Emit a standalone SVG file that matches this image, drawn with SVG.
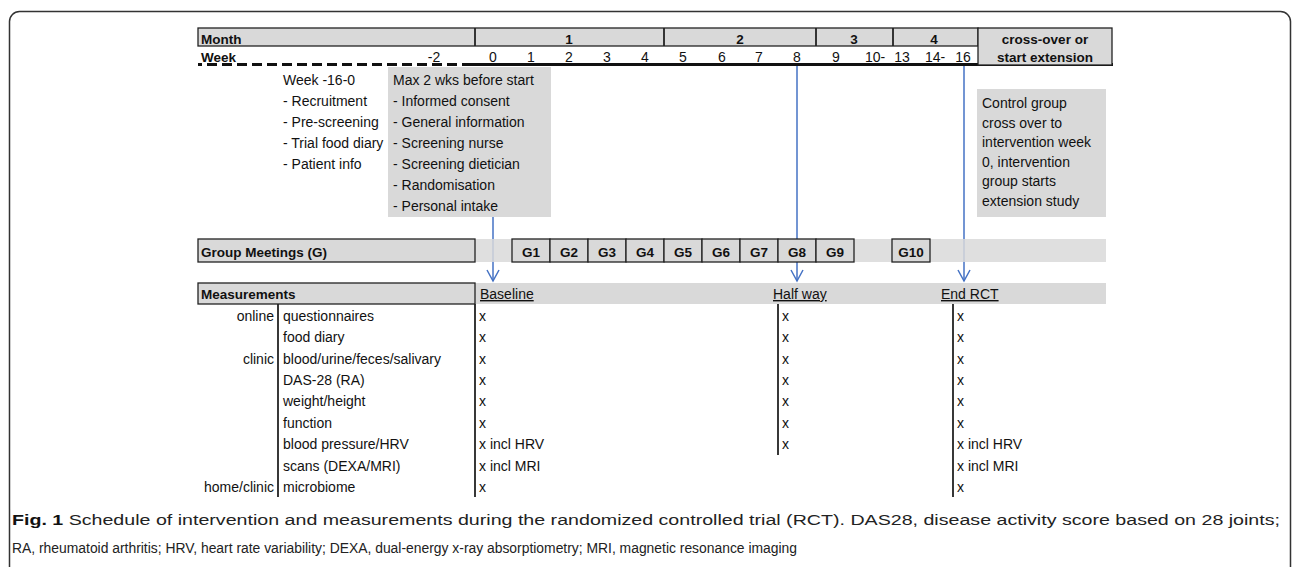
<svg xmlns="http://www.w3.org/2000/svg" width="1292" height="567" viewBox="0 0 1292 567">
<style>
  text { font-family: "Liberation Sans", Arial, sans-serif; font-size: 14px; fill: #111; }
  .b { font-weight: bold; font-size: 13.5px; }
  .c { text-anchor: middle; }
  .e { text-anchor: end; }
  .u { text-decoration: underline; }
  .gray { fill: #d9d9d9; }
  .cell { fill: #d9d9d9; stroke: #222; stroke-width: 1.3; }
  .vl { stroke: #222; stroke-width: 1.8; }
  .blue { stroke: #4472c4; stroke-width: 1.5; fill: none; }
  .cap { font-size: 15.5px; fill: #222; }
</style>
<defs>
  <marker id="arr" markerUnits="userSpaceOnUse" viewBox="-13 -8 15 16" refX="0" refY="0" markerWidth="15" markerHeight="16" orient="auto" overflow="visible">
    <path d="M-11,-6 L0,0 L-11,6" fill="none" stroke="#4472c4" stroke-width="1.5"/>
  </marker>
</defs>

<rect x="9.5" y="11.5" width="1281" height="600" rx="10" fill="#fff" stroke="#333" stroke-width="1.5"/>

<g id="header">
  <rect class="cell" x="198" y="28" width="780" height="18"/>
  <line class="vl" x1="475" y1="28" x2="475" y2="46" stroke-width="1.3"/>
  <line class="vl" x1="664" y1="28" x2="664" y2="46" stroke-width="1.3"/>
  <line class="vl" x1="816" y1="28" x2="816" y2="46" stroke-width="1.3"/>
  <line class="vl" x1="893" y1="28" x2="893" y2="46" stroke-width="1.3"/>
  <text class="b" x="201" y="44">Month</text>
  <text class="b c" x="569" y="44">1</text>
  <text class="b c" x="740" y="44">2</text>
  <text class="b c" x="854" y="44">3</text>
  <text class="b c" x="934" y="44">4</text>
  <text class="b" x="201" y="62">Week</text>
  <text class="c" x="434" y="62">-2</text>
  <text class="c" x="493" y="62">0</text>
  <text class="c" x="531" y="62">1</text>
  <text class="c" x="569" y="62">2</text>
  <text class="c" x="607" y="62">3</text>
  <text class="c" x="645" y="62">4</text>
  <text class="c" x="683" y="62">5</text>
  <text class="c" x="722" y="62">6</text>
  <text class="c" x="759" y="62">7</text>
  <text class="c" x="797" y="62">8</text>
  <text class="c" x="836" y="62">9</text>
  <text class="c" x="875" y="62">10-</text>
  <text class="c" x="902" y="62">13</text>
  <text class="c" x="935" y="62">14-</text>
  <text class="c" x="963" y="62">16</text>
  <line x1="198" y1="64.5" x2="470" y2="64.5" stroke="#111" stroke-width="3" stroke-dasharray="10 5" stroke-dashoffset="6"/>
  <line x1="470" y1="64.5" x2="1113" y2="64.5" stroke="#111" stroke-width="3"/>
</g>

<g id="crossover">
  <rect class="cell" x="978" y="28" width="134" height="37"/>
  <text class="b c" x="1045" y="44">cross-over or</text>
  <text class="b c" x="1045" y="62">start extension</text>
</g>

<g id="prestudy">
  <text x="283" y="85">Week -16-0</text>
  <text x="283" y="106">- Recruitment</text>
  <text x="283" y="127">- Pre-screening</text>
  <text x="283" y="148">- Trial food diary</text>
  <text x="283" y="169">- Patient info</text>
</g>

<g id="screening">
  <rect class="gray" x="388" y="67" width="163" height="150"/>
  <text x="393" y="85">Max 2 wks before start</text>
  <text x="393" y="106">- Informed consent</text>
  <text x="393" y="127">- General information</text>
  <text x="393" y="148">- Screening nurse</text>
  <text x="393" y="169">- Screening dietician</text>
  <text x="393" y="190">- Randomisation</text>
  <text x="393" y="211">- Personal intake</text>
</g>

<g id="control-note">
  <rect class="gray" x="977" y="89" width="129" height="128"/>
  <text x="982" y="108">Control group</text>
  <text x="982" y="127.5">cross over to</text>
  <text x="982" y="147">intervention week</text>
  <text x="982" y="166.5">0, intervention</text>
  <text x="982" y="186">group starts</text>
  <text x="982" y="205.5">extension study</text>
</g>

<g id="connectors">
  <line class="blue" x1="493" y1="217" x2="493" y2="281" marker-end="url(#arr)"/>
  <line class="blue" x1="797" y1="66" x2="797" y2="281" marker-end="url(#arr)"/>
  <line class="blue" x1="964" y1="66" x2="964" y2="281" marker-end="url(#arr)"/>
</g>

<g id="group-meetings">
  <rect class="gray" x="475" y="239" width="631" height="23" opacity="0.85"/>
  <rect class="cell" x="198" y="239" width="277" height="23"/>
  <text class="b" x="201" y="256.5">Group Meetings (G)</text>
  <rect class="cell" x="512" y="239" width="38" height="23"/><text class="b c" x="531" y="256.5">G1</text>
  <rect class="cell" x="550" y="239" width="38" height="23"/><text class="b c" x="569" y="256.5">G2</text>
  <rect class="cell" x="588" y="239" width="38" height="23"/><text class="b c" x="607" y="256.5">G3</text>
  <rect class="cell" x="626" y="239" width="38" height="23"/><text class="b c" x="645" y="256.5">G4</text>
  <rect class="cell" x="664" y="239" width="38" height="23"/><text class="b c" x="683" y="256.5">G5</text>
  <rect class="cell" x="702" y="239" width="38" height="23"/><text class="b c" x="721" y="256.5">G6</text>
  <rect class="cell" x="740" y="239" width="38" height="23"/><text class="b c" x="759" y="256.5">G7</text>
  <rect class="cell" x="778" y="239" width="38" height="23"/><text class="b c" x="797" y="256.5">G8</text>
  <rect class="cell" x="816" y="239" width="38" height="23"/><text class="b c" x="835" y="256.5">G9</text>
  <rect class="cell" x="892" y="239" width="38" height="23"/><text class="b c" x="911" y="256.5">G10</text>
</g>

<g id="measurements">
  <rect class="gray" x="475" y="283" width="631" height="21"/>
  <rect class="cell" x="198" y="283" width="277" height="21"/>
  <text class="b" x="201" y="299">Measurements</text>
  <text class="u" x="480" y="299">Baseline</text>
  <text class="u" x="773" y="299">Half way</text>
  <text class="u" x="941" y="299">End RCT</text>
  <line class="vl" x1="278" y1="304" x2="278" y2="497"/>
  <line class="vl" x1="475" y1="304" x2="475" y2="497"/>
  <line class="vl" x1="778" y1="304" x2="778" y2="455"/>
  <line class="vl" x1="953" y1="304" x2="953" y2="497"/>
  <text class="e" x="274" y="321">online</text>
  <text class="e" x="274" y="363.5">clinic</text>
  <text class="e" x="274" y="492">home/clinic</text>
  <text x="283" y="321">questionnaires</text>
  <text x="283" y="342">food diary</text>
  <text x="283" y="363.5">blood/urine/feces/salivary</text>
  <text x="283" y="385">DAS-28 (RA)</text>
  <text x="283" y="406">weight/height</text>
  <text x="283" y="427.5">function</text>
  <text x="283" y="449">blood pressure/HRV</text>
  <text x="283" y="470.5">scans (DEXA/MRI)</text>
  <text x="283" y="492">microbiome</text>
  <g>
    <text x="479" y="321">x</text><text x="479" y="342">x</text><text x="479" y="363.5">x</text>
    <text x="479" y="385">x</text><text x="479" y="406">x</text><text x="479" y="427.5">x</text>
    <text x="479" y="449">x incl HRV</text><text x="479" y="470.5">x incl MRI</text><text x="479" y="492">x</text>
  </g>
  <g>
    <text x="782" y="321">x</text><text x="782" y="342">x</text><text x="782" y="363.5">x</text>
    <text x="782" y="385">x</text><text x="782" y="406">x</text><text x="782" y="427.5">x</text>
    <text x="782" y="449">x</text>
  </g>
  <g>
    <text x="957" y="321">x</text><text x="957" y="342">x</text><text x="957" y="363.5">x</text>
    <text x="957" y="385">x</text><text x="957" y="406">x</text><text x="957" y="427.5">x</text>
    <text x="957" y="449">x incl HRV</text><text x="957" y="470.5">x incl MRI</text><text x="957" y="492">x</text>
  </g>
</g>

<g id="caption">
  <text class="cap" x="12" y="525" textLength="1268" lengthAdjust="spacingAndGlyphs"><tspan font-weight="bold" fill="#111">Fig. 1</tspan> Schedule of intervention and measurements during the randomized controlled trial (RCT). DAS28, disease activity score based on 28 joints;</text>
  <text class="cap" x="12" y="553" textLength="785" lengthAdjust="spacingAndGlyphs">RA, rheumatoid arthritis; HRV, heart rate variability; DEXA, dual-energy x-ray absorptiometry; MRI, magnetic resonance imaging</text>
</g>
</svg>
